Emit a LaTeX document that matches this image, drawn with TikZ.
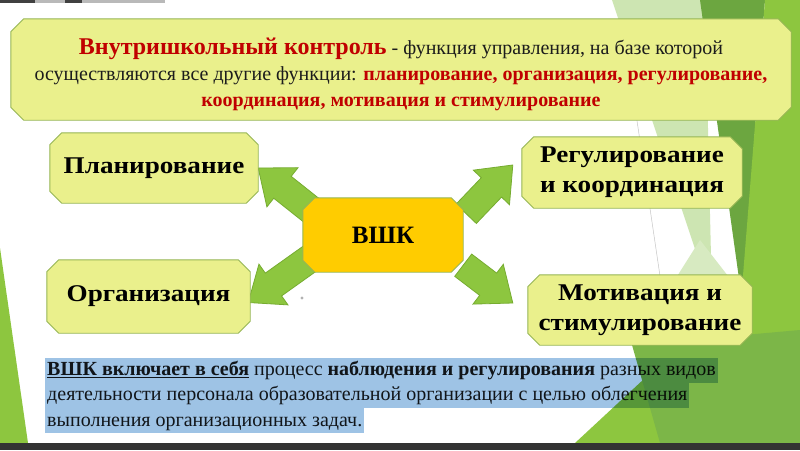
\documentclass[tikz,border=0pt]{standalone}
\usepackage{fontspec}
\setmainfont{Liberation Serif}
\newfontfamily\lblfont{Liberation Serif}[FakeStretch=1.13]
\usetikzlibrary{calc}
\pgfdeclarelayer{bg}\pgfdeclarelayer{arr}\pgfdeclarelayer{box}
\pgfsetlayers{bg,arr,box,main}
\definecolor{boxfill}{RGB}{234,240,140}
\definecolor{boxline}{RGB}{150,182,84}
\definecolor{vshkfill}{RGB}{255,204,0}
\definecolor{arrfill}{RGB}{141,198,63}
\definecolor{arrline}{RGB}{118,172,48}
\definecolor{titlered}{RGB}{192,0,0}
\definecolor{ink}{RGB}{28,28,28}
\definecolor{hlblue}{RGB}{158,195,229}
\definecolor{lime}{RGB}{141,198,63}
\definecolor{darkg}{RGB}{108,166,64}
\definecolor{midg}{RGB}{124,182,72}
\definecolor{paleg}{RGB}{205,229,178}
\newcommand\octbox[3]{%
  \begin{pgfonlayer}{box}
  \filldraw[#3] ($(#1.north west)+(#2,0)$) -- ($(#1.north east)+(-#2,0)$)
    -- ($(#1.north east)+(0,#2)$) -- ($(#1.south east)+(0,-#2)$)
    -- ($(#1.south east)+(-#2,0)$) -- ($(#1.south west)+(#2,0)$)
    -- ($(#1.south west)+(0,-#2)$) -- ($(#1.north west)+(0,#2)$) -- cycle;
  \end{pgfonlayer}}
\newcommand\blockarrow[2]{%
  \begin{pgfonlayer}{arr}
  \coordinate (hb) at ($(#2)!31pt!(#1)$);
  \filldraw[arrowstyle] ($(#1)!14pt!90:(#2)$) -- ($(hb)!14pt!90:(#2)$)
    -- ($(hb)!25pt!90:(#2)$) -- (#2) -- ($(hb)!25pt!-90:(#2)$)
    -- ($(hb)!14pt!-90:(#2)$) -- ($(#1)!14pt!-90:(#2)$) -- cycle;
  \end{pgfonlayer}}
\tikzset{
  boxstyle/.style={fill=boxfill, draw=boxline, line width=0.9pt},
  vshkstyle/.style={fill=vshkfill, draw=boxline, line width=0.9pt},
  arrowstyle/.style={fill=arrfill, draw=arrline, line width=0.8pt, line join=miter},
  label/.style={inner sep=0pt, align=center, text=black,
    font=\lblfont\fontsize{24}{30}\selectfont\bfseries},
  hl/.style={fill=hlblue, inner xsep=2pt, inner ysep=0pt, text height=18pt,
    text depth=7pt, text=ink, font=\fontsize{20}{25}\selectfont},
}
\begin{document}
\begin{tikzpicture}[x=1pt,y=-1pt]
\useasboundingbox (0,0) rectangle (800,450);
% background decoration
\begin{pgfonlayer}{bg}
\fill[white] (0,0) rectangle (800,450);
\fill[paleg] (612,0) -- (705,0) -- (712,300) -- cycle;
\fill[paleg!80] (700,240) -- (735,285) -- (640,335) -- cycle;
\fill[darkg] (700,0) -- (765,0) -- (742,300) -- cycle;
\fill[lime] (765,0) -- (800,0) -- (800,443) -- (575,443) -- (742,288) -- cycle;
\fill[midg] (632,345) -- (800,330) -- (800,443) -- (660,443) -- cycle;
\fill[lime] (0,248) -- (28,443) -- (0,443) -- cycle;
\draw[gray!45, line width=0.5pt] (628,60) -- (668,330);
\fill[gray!55] (0,0) rectangle (165,3);
\fill[black!75] (0,0) rectangle (35,3);
\fill[black!75] (65,0) rectangle (82,3);
\fill[black!80] (0,443) rectangle (800,450);
\end{pgfonlayer}
% title
\node[inner sep=0pt, minimum width=780pt, minimum height=101pt] (titlebox) at (401,69.5) {};
\octbox{titlebox}{13}{boxstyle}
\node[inner sep=0pt, align=center, text=ink, font=\fontsize{20}{26}\selectfont] (title) at (401,74)
  {{\color{titlered}\fontsize{24}{26}\selectfont\bfseries Внутришкольный контроль} - функция управления, на базе которой\\
   осуществляются все другие функции: {\color{titlered}\bfseries планирование, организация, регулирование,}\\
   {\color{titlered}\bfseries координация, мотивация и стимулирование}};
% boxes
\node[label, minimum width=208pt, minimum height=70pt] (plan) at (154,168) {Планирование};
\node[label, minimum width=203pt, minimum height=73pt] (org) at (148.5,296.5) {Организация};
\node[label, minimum width=160pt, minimum height=74pt, font=\fontsize{25}{30}\selectfont\bfseries] (vshk) at (383,235) {ВШК};
\node[label, minimum width=220pt, minimum height=71pt] (reg) at (632,172.5) {Регулирование\\и координация};
\node[label, minimum width=224pt, minimum height=70pt] (mot) at (640,310) {Мотивация и\\стимулирование};
\octbox{plan}{12}{boxstyle}
\octbox{org}{12}{boxstyle}
\octbox{vshk}{12}{vshkstyle}
\octbox{reg}{12}{boxstyle}
\octbox{mot}{12}{boxstyle}
% arrows
\coordinate (s1) at ($(vshk.north west)+(13,16)$);
\coordinate (t1) at (plan.east);
\coordinate (s2) at ($(vshk.south west)+(9,-15)$);
\coordinate (t2) at ($(org.east)+(-2,6)$);
\coordinate (s3) at ($(vshk.north east)+(3,16)$);
\coordinate (t3) at ($(reg.west)+(-9,-7.5)$);
\coordinate (s4) at ($(vshk.south east)+(0,-7)$);
\coordinate (t4) at ($(mot.west)+(-15,-7)$);
\blockarrow{s1}{t1}
\blockarrow{s2}{t2}
\blockarrow{s3}{t3}
\blockarrow{s4}{t4}
\fill[gray!60] (302,298) circle (1.6pt);
% body text
\begin{scope}[blend mode=multiply]
\node[hl, anchor=west] (b1) at (45,370)
  {\underline{\textbf{ВШК включает в себя}} процесс \textbf{наблюдения и регулирования} разных видов};
\node[hl, anchor=north west] (b2) at (b1.south west)
  {деятельности персонала образовательной организации с целью облегчения};
\node[hl, anchor=north west] (b3) at (b2.south west)
  {выполнения организационных задач.};
\end{scope}
\end{tikzpicture}
\end{document}
